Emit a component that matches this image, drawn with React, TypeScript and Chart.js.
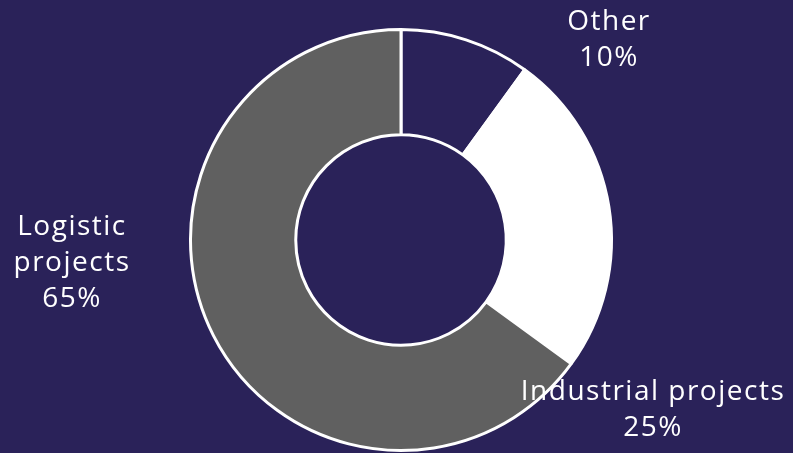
import React, { useEffect, useRef } from "react";
import { Chart, registerables } from "chart.js";

Chart.register(...registerables);

const categories = ["Other", "Industrial projects", "Logistic projects"];
const values = [10, 25, 65];
const labelLines = [["Other", "10%"], ["Industrial projects", "25%"], ["Logistic", "projects", "65%"]];

const BG = "#2a2259";
const COLORS = [BG, "#ffffff", "#606060"];
// label anchor offsets relative to chart centre (style)
const LABEL_OFFSETS = [
  { dx: 208, dy: -200 },
  { dx: 252, dy: 170 },
  { dx: -329, dy: 23 },
];
const LINE_H = 36;

const labelPlugin = {
  id: "outerLabels",
  afterDatasetsDraw(chart: any) {
    const meta = chart.getDatasetMeta(0);
    const ctx = chart.ctx;
    ctx.save();
    ctx.fillStyle = "#ffffff";
    ctx.font = "28px 'Open Sans'";
    (ctx as any).letterSpacing = "1.5px";
    ctx.textAlign = "center";
    ctx.textBaseline = "middle";
    meta.data.forEach((arc: any, i: number) => {
      const lines = labelLines[i];
      const off = LABEL_OFFSETS[i];
      const cx = arc.x + off.dx;
      const cy = arc.y + off.dy;
      const start = cy - ((lines.length - 1) * LINE_H) / 2;
      lines.forEach((t, j) => ctx.fillText(t, cx, start + j * LINE_H));
    });
    ctx.restore();
  },
};

export default function App() {
  const ref = useRef<HTMLCanvasElement>(null);
  useEffect(() => {
    const chart = new Chart(ref.current!, {
      type: "doughnut",
      data: {
        labels: categories,
        datasets: [
          {
            data: values,
            backgroundColor: COLORS,
            borderColor: "#ffffff",
            borderWidth: 3,
          },
        ],
      },
      options: {
        animation: false,
        responsive: false,
        cutout: "50%",
        layout: { padding: { left: 189, right: 180, top: 28, bottom: 1 } },
        plugins: { legend: { display: false }, tooltip: { enabled: false } },
      },
      plugins: [labelPlugin],
    });
    return () => chart.destroy();
  }, []);
  return (
    <div style={{ position: "fixed", left: 0, top: 0, width: 793, height: 453, background: BG }}>
      <canvas ref={ref} width={793} height={453} style={{ width: 793, height: 453, display: "block" }} />
    </div>
  );
}
